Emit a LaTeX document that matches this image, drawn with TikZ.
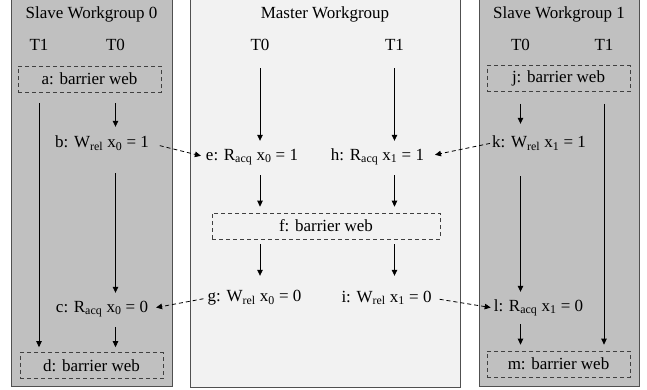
\documentclass[tikz,border=0pt]{standalone}
\usepackage{fontspec}
\setmainfont{Liberation Serif}
\usetikzlibrary{arrows.meta}

\definecolor{slavegray}{HTML}{C0C0C0}
\definecolor{mastergray}{HTML}{F2F2F2}
\definecolor{edgegray}{HTML}{505050}

\tikzset{
  panel/.style={draw=edgegray, line width=1pt},
  lbl/.style={anchor=base, inner sep=0pt},
  barrier/.style={draw=black!75, dash pattern=on 4pt off 3pt, line width=0.7pt, minimum width=143pt, minimum height=26pt, inner sep=0pt},
  op/.style={inner sep=0pt, minimum height=32pt},
  flow/.style={-{Triangle[length=6pt, width=5.5pt]}, line width=0.8pt},
  sync/.style={flow, dash pattern=on 4pt off 3pt}
}

\begin{document}
\begin{tikzpicture}[x=1pt, y=-1pt, font=\fontsize{17}{20}\selectfont]
\useasboundingbox (0,0) rectangle (647,389);

\draw[panel, fill=slavegray] (11,-2) rectangle (172,386);
\draw[panel, fill=mastergray] (190,-2) rectangle (460,387);
\draw[panel, fill=slavegray] (479,-2) rectangle (639,386);

\node[lbl] (s0title) at (91.5,18) {Slave Workgroup 0};
\node[lbl] (mtitle) at (325,18) {Master Workgroup};
\node[lbl] (s1title) at (559,18) {Slave Workgroup 1};

\node[lbl] (s0t1) at (39,50) {T1};
\node[lbl] (s0t0) at (115.5,50) {T0};
\node[lbl] (mt0) at (260,50) {T0};
\node[lbl] (mt1) at (394.5,50) {T1};
\node[lbl] (s1t0) at (520.5,50) {T0};
\node[lbl] (s1t1) at (604,50) {T1};

\node[barrier] (a) at (89.5,79) {a: barrier web};
\node[op] (b) at (102,143) {b: W\textsubscript{rel} x\textsubscript{0} = 1};
\node[op] (c) at (102,309) {c: R\textsubscript{acq} x\textsubscript{0} = 0};
\node[barrier] (d) at (91.5,365.5) {d: barrier web};

\node[op] (e) at (252,157) {e: R\textsubscript{acq} x\textsubscript{0} = 1};
\node[op] (h) at (377.5,157) {h: R\textsubscript{acq} x\textsubscript{1} = 1};
\node[barrier, minimum width=228pt] (f) at (326,226) {f: barrier web};
\node[op] (g) at (254.5,298) {g: W\textsubscript{rel} x\textsubscript{0} = 0};
\node[op] (i) at (386.5,298) {i: W\textsubscript{rel} x\textsubscript{1} = 0};

\node[barrier] (j) at (558.5,78.5) {j: barrier web};
\node[op] (k) at (539,143) {k: W\textsubscript{rel} x\textsubscript{1} = 1};
\node[op] (l) at (538.5,308) {l: R\textsubscript{acq} x\textsubscript{1} = 0};
\node[barrier] (m) at (558.5,364) {m: barrier web};

\draw[flow, shorten <=11pt] (s0t0 |- a.south) -- (s0t0 |- b.north);
\draw[flow, shorten <=14pt] (s0t0 |- b.south) -- (s0t0 |- c.north);
\draw[flow, shorten <=2pt, shorten >=5pt] (s0t0 |- c.south) -- (s0t0 |- d.north);
\draw[flow, shorten <=11pt, shorten >=5pt] (s0t1 |- a.south) -- (s0t1 |- d.north);

\draw[flow, shorten <=18pt] (mt0.south) -- (mt0 |- e.north);
\draw[flow, shorten <=2pt, shorten >=6pt] (mt0 |- e.south) -- (mt0 |- f.north);
\draw[flow, shorten <=5pt, shorten >=6pt] (mt0 |- f.south) -- (mt0 |- g.north);
\draw[flow, shorten <=18pt] (mt1.south) -- (mt1 |- h.north);
\draw[flow, shorten <=2pt, shorten >=6pt] (mt1 |- h.south) -- (mt1 |- f.north);
\draw[flow, shorten <=5pt, shorten >=6pt] (mt1 |- f.south) -- (mt1 |- i.north);

\draw[flow, shorten <=12pt, shorten >=3pt] (s1t0 |- j.south) -- (s1t0 |- k.north);
\draw[flow, shorten <=17pt] (s1t0 |- k.south) -- (s1t0 |- l.north);
\draw[flow, shorten >=6pt] (s1t0 |- l.south) -- (s1t0 |- m.north);
\draw[flow, shorten <=12pt, shorten >=6pt] (s1t1 |- j.south) -- (s1t1 |- m.north);

\draw[sync, shorten <=11pt, shorten >=5pt] (b.east) -- (e.west);
\draw[sync, shorten <=4pt, shorten >=8pt] (g.west) -- (c.east);
\draw[sync, shorten <=2pt, shorten >=11pt] (k.west) -- (h.east);
\draw[sync, shorten <=8pt, shorten >=3pt] (i.east) -- (l.west);

\end{tikzpicture}
\end{document}
